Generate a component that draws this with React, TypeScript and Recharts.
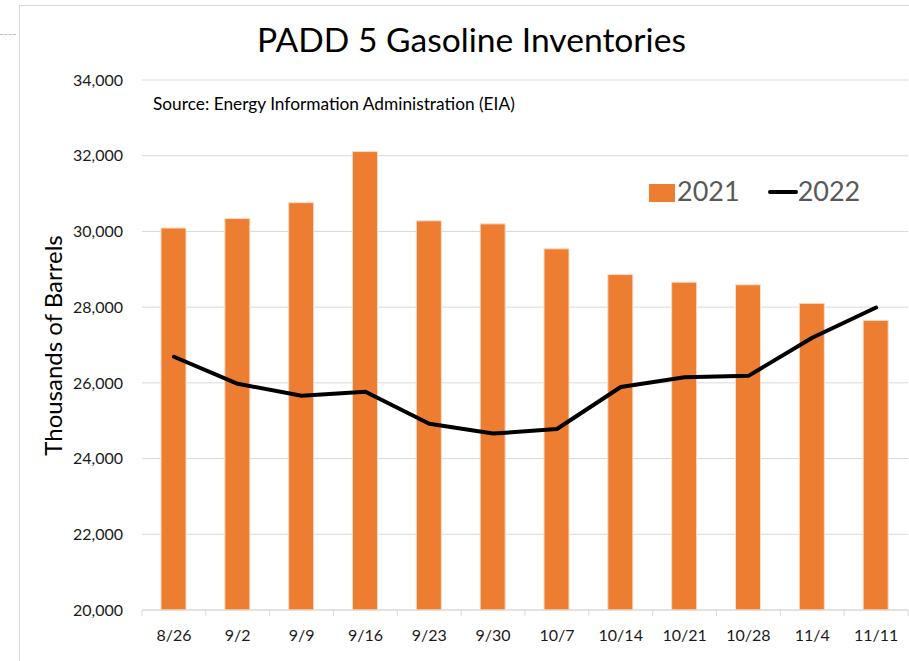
import React from 'react';
import { ComposedChart, Bar, Line, XAxis, YAxis, CartesianGrid, Legend } from 'recharts';

const weeks = ['8/26', '9/2', '9/9', '9/16', '9/23', '9/30', '10/7', '10/14', '10/21', '10/28', '11/4', '11/11'];
const inv2021 = [30090, 30340, 30760, 32110, 30280, 30200, 29540, 28860, 28660, 28590, 28100, 27650];
const inv2022 = [26690, 25975, 25660, 25765, 24920, 24660, 24780, 25890, 26150, 26185, 27190, 27990];
const yTicks = [20000, 22000, 24000, 26000, 28000, 30000, 32000, 34000];

const data = weeks.map((w, i) => ({ week: w, y2021: inv2021[i], y2022: inv2022[i] }));

const FONT = 'Lato, "Open Sans", sans-serif';
const GRID = '#d9d9d9';

const XTick = (props: any) => {
  const { x, y, payload, index, visibleTicksCount } = props;
  const half = payload && typeof payload.offset === 'number' ? payload.offset : 0;
  return (
    <g>
      <line x1={x - half} x2={x - half} y1={y} y2={y + 6} stroke={GRID} />
      {index === visibleTicksCount - 1 && (
        <line x1={x + half} x2={x + half} y1={y} y2={y + 6} stroke={GRID} />
      )}
      <text x={x} y={y + 31} textAnchor="middle" fontSize={16} fill="#1a1a1a" fontFamily={FONT}>
        {payload.value}
      </text>
    </g>
  );
};

const LegendContent = () => (
  <div
    style={{
      display: 'flex',
      alignItems: 'center',
      fontFamily: FONT,
      fontSize: 27,
      lineHeight: '30px',
      color: '#595959',
      whiteSpace: 'nowrap',
    }}
  >
    <span style={{ display: 'inline-block', width: 26, height: 18, background: '#ED7D31', marginRight: 2, marginTop: 4 }} />
    <span>2021</span>
    <span style={{ display: 'inline-block', width: 30, height: 4, background: '#000', borderRadius: 2, marginLeft: 28, marginTop: 2 }} />
    <span>2022</span>
  </div>
);

export default function App() {
  return (
    <div style={{ position: 'absolute', left: 0, top: 0, width: 909, height: 661, overflow: 'hidden', background: '#fff' }}>
      <div style={{ position: 'absolute', left: 19, top: 5, width: 890, height: 656, borderLeft: `1px solid ${GRID}`, borderTop: `1px solid ${GRID}` }} />
      <div style={{ position: 'absolute', left: 0, top: 34, width: 16, borderTop: '1px dashed #bfbfbf' }} />
      <div style={{ position: 'absolute', left: 0, top: 0 }}>
        <ComposedChart
          width={909}
          height={661}
          data={data}
          margin={{ top: 80, right: 1, left: 0, bottom: 21 }}
          barCategoryGap={0}
        >
          <CartesianGrid vertical={false} stroke={GRID} />
          <XAxis
            dataKey="week"
            height={30}
            tickSize={0}
            tickMargin={0}
            tickLine={false}
            axisLine={{ stroke: GRID }}
            tick={<XTick />}
            interval={0}
          />
          <YAxis
            width={142}
            domain={[20000, 34000]}
            ticks={yTicks}
            interval={0}
            tickLine={false}
            axisLine={false}
            tickSize={6}
            tickMargin={13}
            tickFormatter={(v: number) => v.toLocaleString('en-US')}
            tick={{ fontSize: 16, fill: '#1a1a1a', fontFamily: FONT }}
          />
          <Legend
            layout="horizontal"
            verticalAlign="middle"
            align="center"
            content={<LegendContent />}
            wrapperStyle={{ left: 649, top: 176, width: 240, height: 32 }}
          />
          <Bar dataKey="y2021" name="2021" fill="#ED7D31" stroke="#FBDCC6" strokeWidth={1} barSize={25} isAnimationActive={false} />
          <Line
            dataKey="y2022"
            name="2022"
            type="linear"
            stroke="#000"
            strokeWidth={4}
            strokeLinecap="round"
            strokeLinejoin="round"
            dot={false}
            activeDot={false}
            isAnimationActive={false}
          />
        </ComposedChart>
      </div>
      <svg width={909} height={661} style={{ position: 'absolute', left: 0, top: 0, pointerEvents: 'none' }}>
        <text x={471.5} y={52} textAnchor="middle" fontSize={33.6} fill="#000" fontFamily={FONT}>
          PADD 5 Gasoline Inventories
        </text>
        <text x={153} y={109.5} fontSize={17.3} fill="#000" fontFamily={FONT}>
          Source: Energy Information Administration (EIA)
        </text>
        <text x={62} y={345.5} textAnchor="middle" fontSize={24} fill="#000" fontFamily={FONT} transform="rotate(-90 62 345.5)">
          Thousands of Barrels
        </text>
      </svg>
    </div>
  );
}
